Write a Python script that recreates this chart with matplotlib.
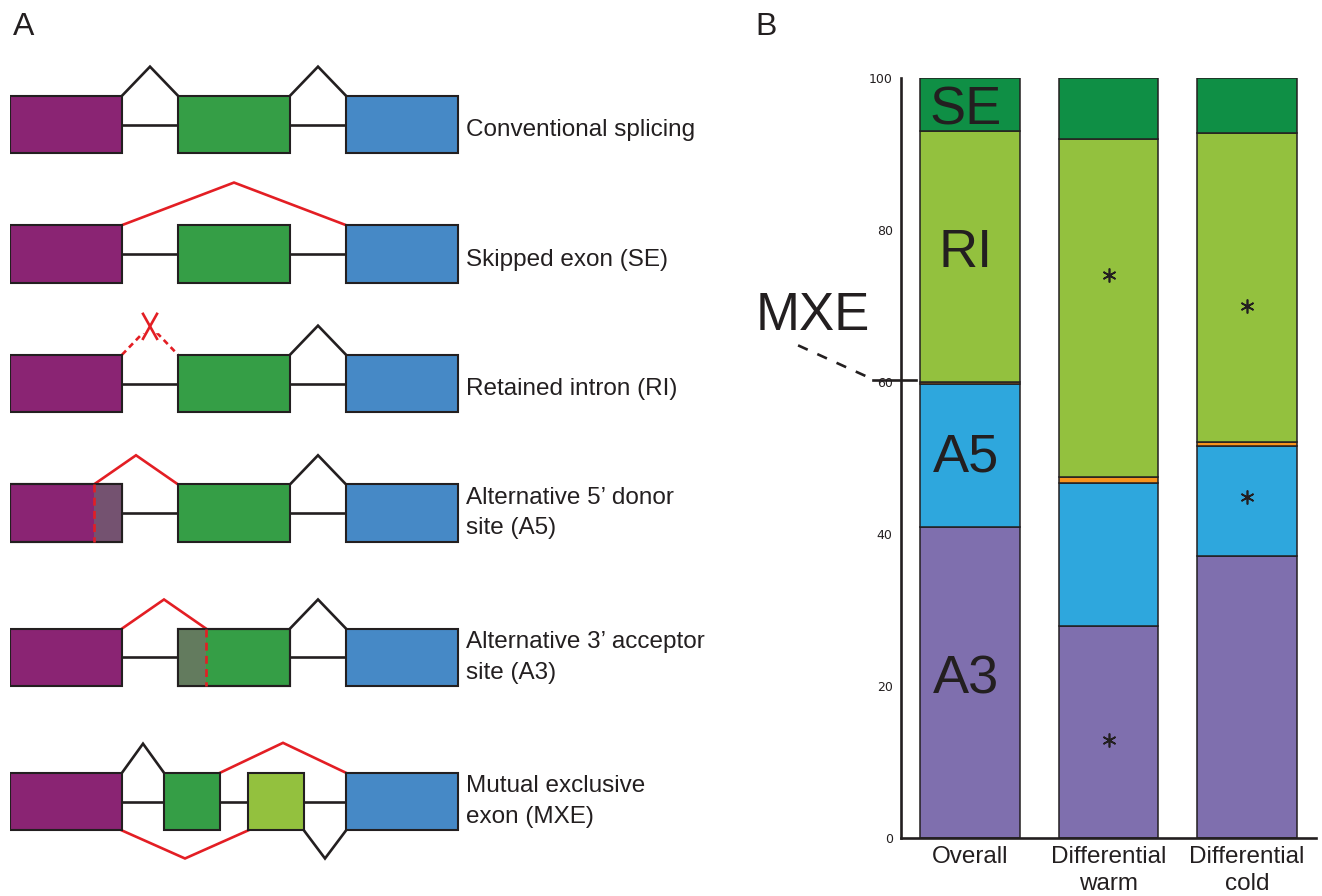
import matplotlib
matplotlib.use("Agg")
import matplotlib.pyplot as plt
from matplotlib.patches import Rectangle

plt.rcParams["font.family"] = ["Liberation Sans", "DejaVu Sans"]

# ── Panel B data: percentage of splicing events per type ──
CATEGORIES = ["Overall", "Differential\nwarm", "Differential\ncold"]
EVENT_TYPES = ["A3", "A5", "MXE", "RI", "SE"]
A3 = [40.9, 27.8, 37.1]
A5 = [18.8, 18.9, 14.5]
MXE = [0.3, 0.8, 0.5]
RI = [33.0, 44.5, 40.6]
SE = [7.0, 8.0, 7.3]
Y_TICKS = [0, 20, 40, 60, 80, 100]

# significant enrichment marks (bar index, y)
STAR_BAR = [1, 1, 2, 2]
STAR_Y = [74.1, 12.8, 70.0, 44.8]

# labels written inside the "Overall" bar (y positions in %)
INBAR_LABELS = ["SE", "RI", "A5", "A3"]
INBAR_Y = [96.4, 77.7, 50.7, 21.5]

EVENT_COLORS = {
    "A3": "#7f6fae",
    "A5": "#2ea7dd",
    "MXE": "#f7941d",
    "RI": "#93c13e",
    "SE": "#0f8f45",
}

# ── Panel A: schematic of splicing events (gene units) ──
ROW_LABELS = [
    "Conventional splicing",
    "Skipped exon (SE)",
    "Retained intron (RI)",
    "Alternative 5\u2019 donor\nsite (A5)",
    "Alternative 3\u2019 acceptor\nsite (A3)",
    "Mutual exclusive\nexon (MXE)",
]
ROW_TOPS = [3.42, 8.04, 12.67, 17.30, 22.45, 27.60]
GENE_EXONS = [(0, 4), (6, 10), (12, 16)]
MXE_EXONS = [(0, 4), (5.5, 7.5), (8.5, 10.5), (12, 16)]

PURPLE = "#8a2473"
GREEN = "#359e46"
BLUE = "#4689c6"
LIGHT_GREEN = "#93c13e"
A5_SHADE = "#745270"
A3_SHADE = "#637b5e"
RED = "#e31e24"
DARK = "#231f20"

EXON_H = 2.06
PEAK_H = 1.04


def exon(ax, x0, x1, top, color):
    ax.add_patch(Rectangle((x0, top), x1 - x0, EXON_H, facecolor=color,
                           edgecolor=DARK, linewidth=1.5, zorder=3))


def intron(ax, x0, x1, top):
    ax.plot([x0, x1], [top + EXON_H / 2] * 2, color=DARK, lw=1.9, zorder=1)


def junction(ax, x0, x1, top, color=DARK, h=PEAK_H, down=False, ls="-"):
    base = top + EXON_H if down else top
    apex = base + h if down else base - h
    ax.plot([x0, (x0 + x1) / 2, x1], [base, apex, base], color=color,
            lw=1.9, ls=ls, zorder=2, solid_joinstyle="miter")


def draw_panel_a(ax):
    colors = [PURPLE, GREEN, BLUE]
    for i, top in enumerate(ROW_TOPS):
        if i < 5:
            intron(ax, 4, 12, top)
            for (x0, x1), c in zip(GENE_EXONS, colors):
                exon(ax, x0, x1, top, c)
        lines = ROW_LABELS[i].count("\n") + 1
        dy = 0.2 if lines == 1 else 0.0
        ax.text(16.3, top + EXON_H / 2 + dy, ROW_LABELS[i], fontsize=17.5,
                va="center", ha="left", color=DARK, linespacing=1.5)

    # conventional
    t = ROW_TOPS[0]
    junction(ax, 4, 6, t)
    junction(ax, 10, 12, t)

    # skipped exon
    t = ROW_TOPS[1]
    junction(ax, 4, 12, t, color=RED, h=1.52)

    # retained intron
    t = ROW_TOPS[2]
    junction(ax, 4, 6, t, color=RED, ls=(0, (2.2, 1.6)))
    ax.plot([4.75, 5.25], [t - 1.46, t - 0.57], color=RED, lw=1.9, zorder=4)
    ax.plot([5.25, 4.75], [t - 1.46, t - 0.57], color=RED, lw=1.9, zorder=4)
    ax.add_patch(Rectangle((4.7, t - 1.25), 0.6, 0.45, color="white", zorder=3))
    junction(ax, 10, 12, t)

    # alternative 5' donor
    t = ROW_TOPS[3]
    ax.add_patch(Rectangle((3, t), 1, EXON_H, facecolor=A5_SHADE,
                           edgecolor="none", zorder=4))
    ax.add_patch(Rectangle((0, t), 4, EXON_H, facecolor="none",
                           edgecolor=DARK, linewidth=1.5, zorder=5))
    ax.plot([3, 3], [t, t + EXON_H], color=RED, lw=1.9, ls=(0, (3, 2)), zorder=6)
    junction(ax, 3, 6, t, color=RED)
    junction(ax, 10, 12, t)

    # alternative 3' acceptor
    t = ROW_TOPS[4]
    ax.add_patch(Rectangle((6, t), 1, EXON_H, facecolor=A3_SHADE,
                           edgecolor="none", zorder=4))
    ax.add_patch(Rectangle((6, t), 4, EXON_H, facecolor="none",
                           edgecolor=DARK, linewidth=1.5, zorder=5))
    ax.plot([7, 7], [t, t + EXON_H], color=RED, lw=1.9, ls=(0, (3, 2)), zorder=6)
    junction(ax, 4, 7, t, color=RED)
    junction(ax, 10, 12, t)

    # mutually exclusive exons
    t = ROW_TOPS[5]
    intron(ax, 4, 12, t)
    for (x0, x1), c in zip(MXE_EXONS, [PURPLE, GREEN, LIGHT_GREEN, BLUE]):
        exon(ax, x0, x1, t, c)
    junction(ax, 4, 5.5, t)
    junction(ax, 7.5, 12, t, color=RED, h=1.07)
    junction(ax, 4, 8.5, t, color=RED, h=1.0, down=True)
    junction(ax, 10.5, 12, t, h=1.0, down=True)


def draw_panel_b(ax):
    x = range(len(CATEGORIES))
    bottom = [0.0] * len(CATEGORIES)
    for name, vals in zip(EVENT_TYPES, [A3, A5, MXE, RI, SE]):
        ax.bar(x, vals, width=0.72, bottom=bottom, color=EVENT_COLORS[name],
               edgecolor=DARK, linewidth=1.1, zorder=2)
        bottom = [b + v for b, v in zip(bottom, vals)]

    for label, y in zip(INBAR_LABELS, INBAR_Y):
        ax.annotate(label, (-0.03, y), xytext=(0, -4), textcoords="offset points",
                    fontsize=39, ha="center", va="center", color=DARK, zorder=5)
    for b, y in zip(STAR_BAR, STAR_Y):
        ax.plot(b, y, marker=(6, 2, 0), ms=10, mew=1.2, color=DARK, zorder=5)

    # MXE call-out
    ax.annotate("MXE", (-1.135, 69.4), xytext=(0, -4), textcoords="offset points",
                fontsize=38, ha="center", va="center", color=DARK,
                annotation_clip=False)
    ax.plot([-1.244, -0.70], [64.8, 60.3], color=DARK, lw=1.9,
            ls=(0, (4, 4)), clip_on=False)
    ax.plot([-0.70, -0.39], [60.3, 60.3], color=DARK, lw=1.9, clip_on=False,
            zorder=6)

    ax.set_xlim(-0.5, 2.5)
    ax.set_ylim(0, 100)
    ax.set_yticks(Y_TICKS)
    ax.set_yticklabels([str(v) for v in Y_TICKS], fontsize=9, color=DARK,
                       family="DejaVu Sans")
    ax.set_xticks(list(x))
    ax.set_xticklabels(CATEGORIES, fontsize=17.5, color=DARK, linespacing=1.28)
    ax.tick_params(axis="both", length=0)
    ax.tick_params(axis="y", pad=6)
    ax.tick_params(axis="x", pad=6)
    for side in ["top", "right"]:
        ax.spines[side].set_visible(False)
    for side in ["left", "bottom"]:
        ax.spines[side].set_linewidth(1.9)
        ax.spines[side].set_color(DARK)


def main():
    W, H = 1322, 896
    fig = plt.figure(figsize=(W / 100, H / 100), dpi=100)

    ax_a = fig.add_axes([10 / W, 0, 784 / W, 1])
    ax_a.set_xlim(0, 28)
    ax_a.set_ylim(32, 0)
    ax_a.axis("off")
    draw_panel_a(ax_a)

    ax_b = fig.add_axes([901 / W, (H - 837.5) / H, 415 / W, 759.5 / H])
    draw_panel_b(ax_b)

    fig.text(24 / W, 1 - 27 / H, "A", fontsize=23, ha="center", va="center",
             color=DARK)
    fig.text(766 / W, 1 - 27 / H, "B", fontsize=23, ha="center", va="center",
             color=DARK)

    fig.savefig("out.png", dpi=100)
    plt.close(fig)


if __name__ == "__main__":
    main()
